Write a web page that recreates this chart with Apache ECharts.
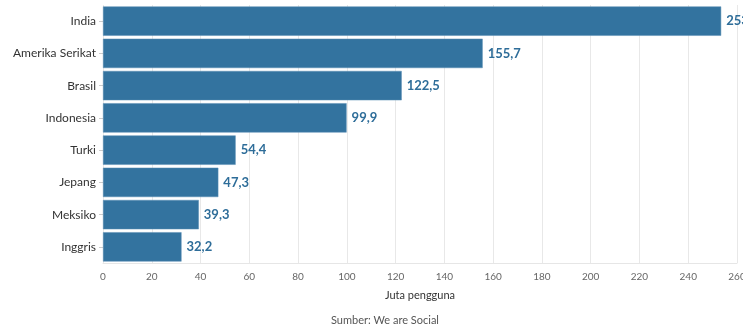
<!DOCTYPE html>
<html lang="id">
  <head>
    <meta charset="UTF-8" />
    <title>Pengguna</title>
    <style>
      html, body { margin: 0; padding: 0; background: #fff; }
      #main { width: 743px; height: 333px; }
    </style>
  </head>
  <body>
    <div id="main"></div>
    <script src="https://cdn.jsdelivr.net/npm/echarts@6/dist/echarts.min.js"></script>
    <script>
      // data
      const countries = ['India', 'Amerika Serikat', 'Brasil', 'Indonesia', 'Turki', 'Jepang', 'Meksiko', 'Inggris']
      const users = [253.5, 155.7, 122.5, 99.9, 54.4, 47.3, 39.3, 32.2]
      const xTicks = [0, 20, 40, 60, 80, 100, 120, 140, 160, 180, 200, 220, 240, 260]

      const font = 'Lato, "Open Sans", sans-serif'
      let chart = echarts.init(document.getElementById('main'))
      chart.setOption({
        animation: false,
        textStyle: { fontFamily: font },
        title: {
          text: 'Sumber: We are Social',
          left: 326,
          bottom: 2,
          textStyle: { fontSize: 11, fontWeight: 'normal', color: '#555', fontFamily: font }
        },
        // keep the plot at fixed pixels; labels may run off the right edge like the original
        grid: { left: 103, right: 6, top: 5, bottom: 70, containLabel: false, outerBoundsMode: 'none' },
        xAxis: {
          type: 'value',
          min: xTicks[0],
          max: xTicks[xTicks.length - 1],
          interval: 20,
          name: 'Juta pengguna',
          nameLocation: 'middle',
          nameGap: 27,
          nameTextStyle: { fontSize: 11, color: '#333' },
          axisLine: { show: true, lineStyle: { color: '#e6e6e6' } },
          axisTick: { show: false },
          axisLabel: { fontSize: 10, color: '#666', margin: 9 },
          splitLine: { show: true, lineStyle: { color: '#e8e8e8' } }
        },
        yAxis: {
          type: 'category',
          data: countries,
          inverse: true,
          axisLine: { show: false },
          axisTick: { show: true, length: 4, alignWithLabel: true, lineStyle: { color: '#ccc' } },
          axisLabel: { fontSize: 12, color: '#333', margin: 7 }
        },
        series: [
          {
            type: 'bar',
            data: users,
            barCategoryGap: '9%',
            itemStyle: { color: '#33739f', borderColor: '#5b8fb5', borderWidth: 0.5 },
            label: {
              show: true,
              position: 'right',
              distance: 5,
              fontSize: 13,
              fontWeight: 'bold',
              color: '#2e6d99',
              formatter: p => String(p.value).replace('.', ',')
            }
          }
        ]
      })
    </script>
  </body>
</html>
